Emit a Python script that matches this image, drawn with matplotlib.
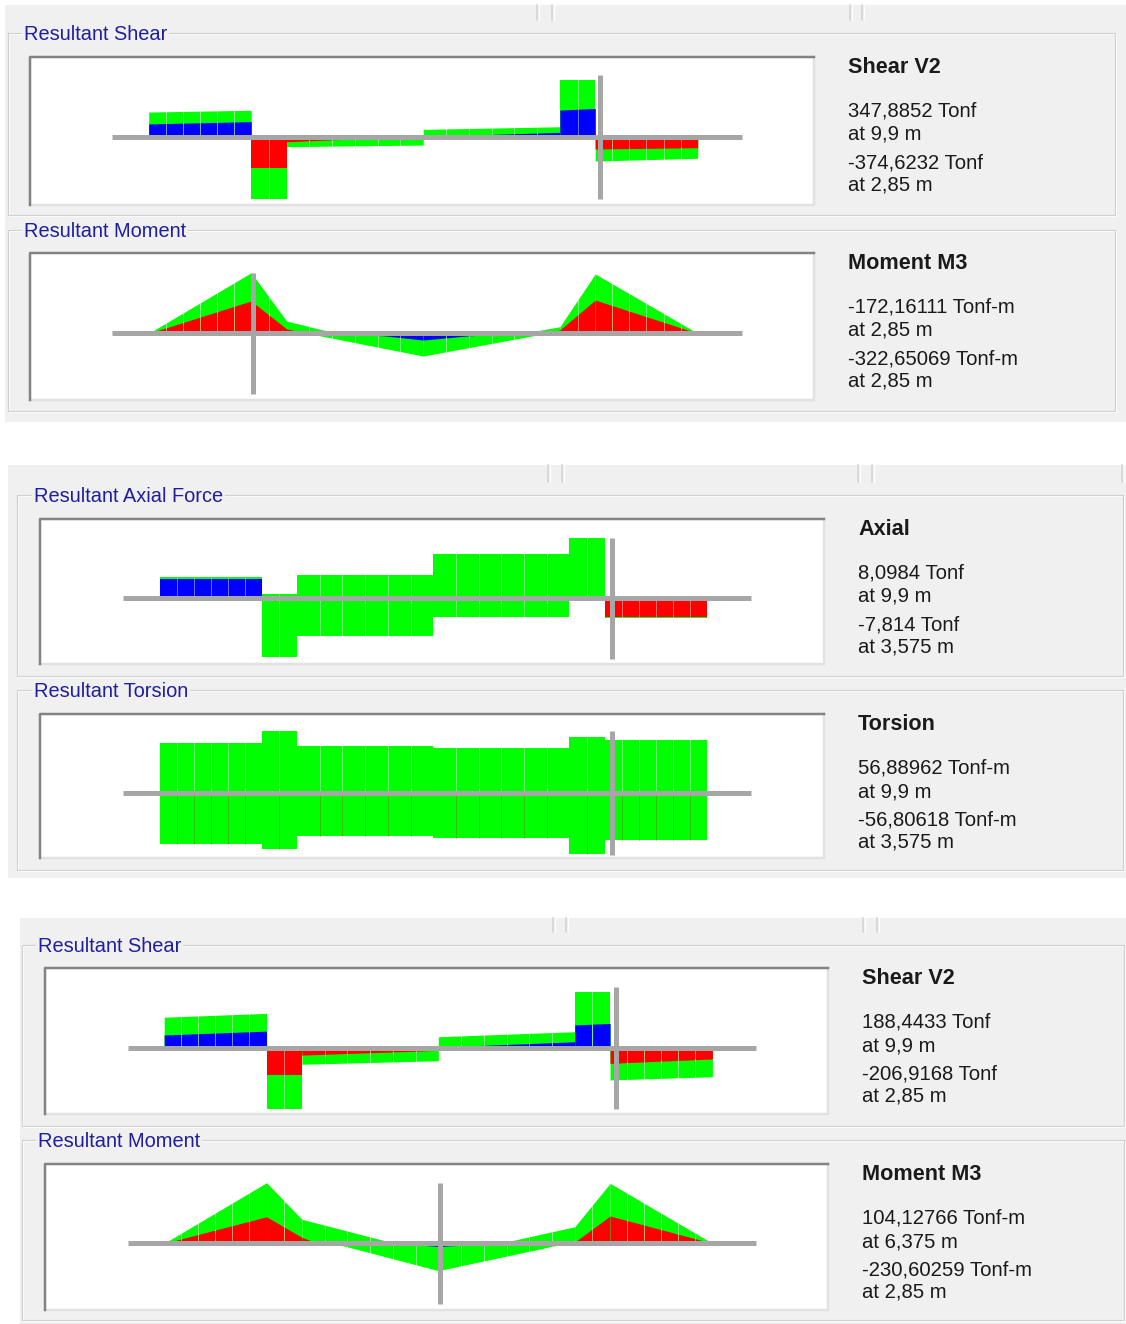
import numpy as np
import matplotlib.pyplot as plt
from matplotlib.patches import Rectangle

plt.rcParams['font.family'] = ['Liberation Sans', 'DejaVu Sans']

W, H = 1126, 1324
PX = 0.72  # one pixel in points at dpi=100

GREEN, BLUE, RED = '#00ff00', '#0000ff', '#ff0000'
AXIS_GREY = '#a6a6a6'
PANEL_BG = '#f0f0f0'
TITLE_BLUE = '#1e1e9e'
TEXT = '#1a1a1a'

# element groups along the beam: (start m, end m, number of segments)
groups = [(0.75, 2.85, 6), (2.85, 3.575, 2), (3.575, 6.375, 6),
          (6.375, 9.175, 6), (9.175, 9.9, 2), (9.9, 12.0, 6)]

# knots of the stepped diagrams (value jumps at the group ends)
step_x = [0.75, 2.85, 2.85, 3.575, 3.575, 6.375, 6.375, 9.175, 9.175, 9.9, 9.9, 12.0]

# Shear V2, first beam (Tonf)
v1_max = [153, 164, -188, -188, -27, 8, 48, 64, 347.8852, 347.8852, -71, -63]
v1_min = [81, 95, -374.6232, -374.6232, -57, -47, 5, 30, 165, 175, -144, -127]

# Moment M3, first beam (Tonf-m)
m1_x = [0.75, 2.85, 3.575, 4.0, 4.6, 5.6, 6.375, 7.27, 8.4, 8.9, 9.175, 9.9, 12.0]
m1_max = [0, -172.16111, -24, 0, 30.6, 81.5, 121, 78, 24, 0, -18, -177, 0]
m1_min = [0, -322.65069, -65.5, -38.3, 0, 14, 36, 14, 0, -22.6, -35, -316, 0]

# Axial force (Tonf)
a_max = [2.88, 2.88, 0.57, 0.57, 3.1, 3.1, 5.9, 5.9, 8.0984, 8.0984, -2.45, -2.45]
a_min = [2.53, 2.53, -7.814, -7.814, -4.99, -4.99, -2.45, -2.45, 0.2, 0.2, -2.67, -2.67]

# Torsion (Tonf-m)
t_max = [50.1, 50.1, 62.9, 62.9, 47.4, 47.4, 45.7, 45.7, 56.88962, 56.88962, 53.5, 53.5]
t_min = [-52.4, -52.4, -56.80618, -56.80618, -44, -44, -46.3, -46.3, -62.2, -62.2, -48, -48]

# Shear V2, second beam (Tonf)
v3_max = [104, 117, -91, -91, -24, -8, 38, 55, 188.4433, 188.4433, -52, -37]
v3_min = [44, 57, -206.9168, -206.9168, -55, -43, 3, 21, 78, 83, -108, -97]

# Moment M3, second beam (Tonf-m)
m3_x = [0.75, 2.85, 3.575, 3.9, 4.44, 5.48, 6.375, 7.64, 8.75, 9.175, 9.9, 12.0]
m3_max = [0, -101, -23, 0, 10, 60.5, 104.12766, 54, 10, -5, -104, 0]
m3_min = [0, -230.60259, -91.3, -75.7, -49.8, 0, 12, 0, -45.6, -63, -228, 0]

# location of the station cursor (m)
cursor = {'v1': 10.0, 'm1': 2.88, 'a': 10.05, 't': 10.05, 'v3': 10.03, 'm3': 6.42}

# readouts shown beside each diagram
readouts = {
    'v1': ('Shear V2', ['347,8852 Tonf', 'at 9,9 m', '-374,6232 Tonf', 'at 2,85 m']),
    'm1': ('Moment M3', ['-172,16111 Tonf-m', 'at 2,85 m', '-322,65069 Tonf-m', 'at 2,85 m']),
    'a': ('Axial', ['8,0984 Tonf', 'at 9,9 m', '-7,814 Tonf', 'at 3,575 m']),
    't': ('Torsion', ['56,88962 Tonf-m', 'at 9,9 m', '-56,80618 Tonf-m', 'at 3,575 m']),
    'v3': ('Shear V2', ['188,4433 Tonf', 'at 9,9 m', '-206,9168 Tonf', 'at 2,85 m']),
    'm3': ('Moment M3', ['104,12766 Tonf-m', 'at 6,375 m', '-230,60259 Tonf-m', 'at 2,85 m']),
}

fig = plt.figure(figsize=(W / 100, H / 100), dpi=100)
fig.patch.set_facecolor('white')
bg = fig.add_axes([0, 0, 1, 1])
bg.set_xlim(0, W)
bg.set_ylim(H, 0)
bg.axis('off')

# dialog backgrounds
for x0, y0, x1, y1 in [(5, 5, 1126, 421.5), (8, 464.5, 1126, 878), (20, 918, 1126, 1324)]:
    bg.add_patch(Rectangle((x0, y0), x1 - x0, y1 - y0, facecolor=PANEL_BG, edgecolor='none'))

# tab separators along the top of each dialog
for xs, ya, yb in [([537, 552, 850, 862], 5, 20), ([548, 562, 858, 872, 1122], 465, 482),
                   ([553, 566, 863, 877], 918, 932)]:
    for x in xs:
        bg.plot([x, x], [ya, yb], color='#d2d2d2', lw=1.5 * PX)
        bg.plot([x + 1.5, x + 1.5], [ya, yb], color='white', lw=1 * PX)

# group boxes
frames = [(8, 33, 1115, 215, 24, 'Resultant Shear'),
          (8, 230, 1115, 411, 24, 'Resultant Moment'),
          (17, 495, 1123, 676, 34, 'Resultant Axial Force'),
          (17, 690, 1123, 870, 34, 'Resultant Torsion'),
          (22, 945, 1124, 1126, 38, 'Resultant Shear'),
          (22, 1140, 1124, 1320, 38, 'Resultant Moment')]
for x0, y0, x1, y1, tx, title in frames:
    bg.add_patch(Rectangle((x0 + 1, y0 + 1), x1 - x0, y1 - y0, fill=False,
                           edgecolor='white', lw=1 * PX))
    bg.add_patch(Rectangle((x0, y0), x1 - x0, y1 - y0, fill=False,
                           edgecolor='#d0d0d0', lw=1.2 * PX))
    bg.text(tx, y0 + 7.4, title, fontsize=14.4, color=TITLE_BLUE, va='baseline',
            bbox=dict(facecolor=PANEL_BG, edgecolor='none', pad=1.5))


def diagram(key, box, base_y, x_px0, ppm, scale, xs, vmax, vmin, flip=False,
            low_div='white'):
    x0, y0, x1, y1 = box
    # sunken white plot area
    bg.add_patch(Rectangle((x0, y0), x1 - x0, y1 - y0, facecolor='white', edgecolor='none'))
    bg.plot([x1, x1, x0], [y0, y1, y1], color='#e2e2e2', lw=2.5 * PX)
    bg.plot([x0, x0, x1], [y1, y0, y0], color='#838383', lw=2.5 * PX)

    # readout text
    title, lines = readouts[key]
    tx = x1 + 34
    bg.text(tx, y0 + 16.3, title, fontsize=15.6, fontweight='bold', color=TEXT, va='baseline')
    for dy, s in zip([59.7, 83, 111.3, 133.7], lines):
        bg.text(tx, y0 + dy, s, fontsize=14.6, color=TEXT, va='baseline')

    ax = fig.add_axes([x0 / W, 1 - y1 / H, (x1 - x0) / W, (y1 - y0) / H])
    ax.set_xlim(0.75 + (x0 - x_px0) / ppm, 0.75 + (x1 - x_px0) / ppm)
    lo, hi = (base_y - y1) / scale, (base_y - y0) / scale
    ax.set_ylim((-lo, -hi) if flip else (lo, hi))
    ax.axis('off')

    for a, b, n in groups:
        edges = np.linspace(a, b, n + 1)
        for ea, eb in zip(edges[:-1], edges[1:]):
            t = np.linspace(ea + 1e-6, eb - 1e-6, 12)
            up = np.interp(t, xs, vmax)
            dn = np.interp(t, xs, vmin)
            ax.fill_between(t, 0, up, color=GREEN, lw=0)
            ax.fill_between(t, 0, dn, color=GREEN, lw=0)
            ax.fill_between(t, 0, np.clip(dn, 0, None), color=BLUE, lw=0)
            ax.fill_between(t, 0, np.clip(up, None, 0), color=RED, lw=0)
        # segment outlines
        for e in edges[1:-1]:
            both = np.array([e - 1e-6, e + 1e-6])
            top = max(np.interp(both, xs, vmax).max(), 0)
            bot = min(np.interp(both, xs, vmin).min(), 0)
            ax.plot([e, e], [0, top], color='white', alpha=0.55, lw=0.8 * PX)
            ax.plot([e, e], [bot, 0], color=low_div, alpha=0.55, lw=0.8 * PX)

    reach = max(np.abs(vmax).max(), np.abs(vmin).max())
    ax.plot([0, 12.9], [0, 0], color=AXIS_GREY, lw=5 * PX, solid_capstyle='butt')
    ax.plot([cursor[key]] * 2, [-reach, reach], color=AXIS_GREY, lw=5 * PX,
            solid_capstyle='butt')


diagram('v1', (30, 57, 814, 205), 137.3, 148.7, 48.8, 0.165, step_x, v1_max, v1_min)
diagram('m1', (30, 253, 814, 400), 333.3, 148.7, 48.8, 0.1878, m1_x, m1_max, m1_min, flip=True)
diagram('a', (40, 519, 824, 664), 598.3, 159.6, 48.65, 7.5, step_x, a_max, a_min)
diagram('t', (40, 714, 824, 858), 792.7, 159.6, 48.65, 0.985, step_x, t_max, t_min,
        low_div='#6f7a00')
diagram('v3', (45, 968, 828, 1114), 1048, 164.2, 48.73, 0.296, step_x, v3_max, v3_min)
diagram('m3', (45, 1164, 828, 1310), 1243.3, 164.2, 48.73, 0.2628, m3_x, m3_max, m3_min,
        flip=True)

fig.savefig('out.png', dpi=100, facecolor='white')
